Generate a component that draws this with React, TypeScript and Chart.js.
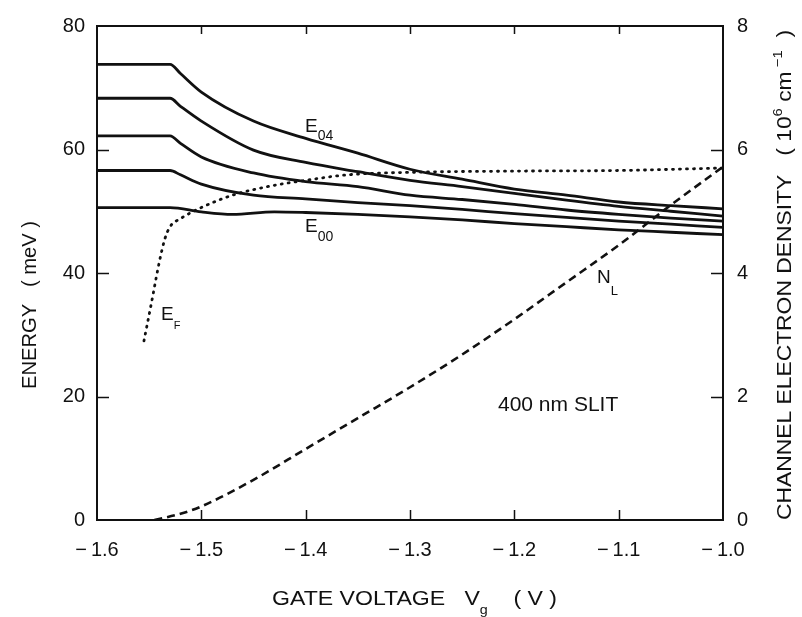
import React, { useEffect, useRef } from "react";
import { Chart, registerables } from "chart.js";
Chart.register(...registerables);

// Gate voltage grids (V)
const V_LEVELS = [-1.6, -1.53, -1.52, -1.5, -1.45, -1.4, -1.35, -1.3, -1.25, -1.2, -1.15, -1.1, -1.05, -1.0];
const E04 = [73.8, 73.8, 72.3, 69.3, 64.6, 61.8, 59.4, 56.8, 55.2, 53.6, 52.6, 51.5, 50.9, 50.4];
const E03 = [68.3, 68.3, 67.0, 64.6, 59.9, 57.9, 56.4, 55.0, 54.0, 52.9, 51.8, 50.8, 50.0, 49.2];
const E02 = [62.2, 62.2, 61.0, 58.8, 56.2, 54.8, 54.0, 52.6, 51.9, 51.1, 50.2, 49.5, 48.9, 48.4];
const E01 = [56.6, 56.6, 55.9, 54.4, 52.6, 52.0, 51.4, 50.9, 50.3, 49.6, 49.0, 48.4, 47.9, 47.4];
const V_E00 = [-1.6, -1.53, -1.5, -1.47, -1.43, -1.4, -1.35, -1.3, -1.25, -1.2, -1.15, -1.1, -1.05, -1.0];
const E00 = [50.6, 50.6, 49.9, 49.5, 49.9, 49.8, 49.5, 49.1, 48.6, 48.0, 47.5, 47.0, 46.6, 46.2];
const V_EF = [-1.555, -1.548, -1.54, -1.535, -1.53, -1.52, -1.5, -1.47, -1.43, -1.4, -1.36, -1.3, -1.2, -1.1, -1.0];
const EF = [29, 35, 42, 45.5, 47.5, 48.8, 50.6, 52.6, 54.2, 55.0, 55.9, 56.3, 56.5, 56.6, 57.0];
const V_NL = [-1.545, -1.52, -1.5, -1.45, -1.4, -1.35, -1.3, -1.25, -1.2, -1.15, -1.1, -1.05, -1.0];
const NL = [0, 0.1, 0.22, 0.65, 1.15, 1.65, 2.15, 2.68, 3.25, 3.85, 4.45, 5.1, 5.72];

const X_MIN = -1.6, X_MAX = -1.0, X_STEP = 0.1;
const E_MAX = 80, E_STEP = 20;
const N_MAX = 8, N_STEP = 2;

const INK = "#111";
const FONT = "'Liberation Sans', Arial, sans-serif";

const pts = (xs: number[], ys: number[]) => xs.map((x, i) => ({ x, y: ys[i] }));

type Part = { t: string; size: number; dy?: number };
function drawRich(ctx: CanvasRenderingContext2D, parts: Part[], x: number, y: number, rot: number, align: "left" | "center", targetLen?: number) {
  ctx.save();
  ctx.translate(x, y);
  ctx.rotate(rot);
  let total = 0;
  const ws = parts.map((p) => {
    ctx.font = `${p.size}px ${FONT}`;
    const w = ctx.measureText(p.t).width;
    total += w;
    return w;
  });
  const sx = targetLen ? targetLen / total : 1;
  ctx.scale(sx, 1);
  let cur = align === "center" ? -total / 2 : 0;
  ctx.fillStyle = INK;
  ctx.textBaseline = "alphabetic";
  ctx.textAlign = "left";
  parts.forEach((p, i) => {
    ctx.font = `${p.size}px ${FONT}`;
    ctx.fillText(p.t, cur, p.dy || 0);
    cur += ws[i];
  });
  ctx.restore();
}

const decor = {
  id: "decor",
  afterDraw(chart: any) {
    const { ctx, chartArea: a, scales } = chart;
    const xs = scales.x, yl = scales.y, yr = scales.y2;
    ctx.save();
    ctx.strokeStyle = INK;
    ctx.lineWidth = 2;
    ctx.strokeRect(a.left, a.top, a.right - a.left, a.bottom - a.top);
    ctx.lineWidth = 1.5;
    ctx.beginPath();
    for (let v = X_MIN + X_STEP; v < X_MAX - 1e-6; v += X_STEP) {
      const px = Math.round(xs.getPixelForValue(v)) + 0.5;
      ctx.moveTo(px, a.bottom); ctx.lineTo(px, a.bottom - 10);
      ctx.moveTo(px, a.top); ctx.lineTo(px, a.top + 8);
    }
    for (let v = E_STEP; v < E_MAX; v += E_STEP) {
      const py = Math.round(yl.getPixelForValue(v)) + 0.5;
      ctx.moveTo(a.left, py); ctx.lineTo(a.left + 12, py);
    }
    for (let v = N_STEP; v < N_MAX; v += N_STEP) {
      const py = Math.round(yr.getPixelForValue(v)) + 0.5;
      ctx.moveTo(a.right, py); ctx.lineTo(a.right - 12, py);
    }
    ctx.stroke();
    ctx.restore();

    // in-plot labels
    drawRich(ctx, [{ t: "E", size: 19 }, { t: "04", size: 14, dy: 8 }], 305, 132, 0, "left");
    drawRich(ctx, [{ t: "E", size: 19 }, { t: "00", size: 14, dy: 9 }], 305, 232, 0, "left");
    drawRich(ctx, [{ t: "N", size: 19 }, { t: "L", size: 13, dy: 12 }], 597, 283, 0, "left");
    drawRich(ctx, [{ t: "E", size: 19 }, { t: "F", size: 11, dy: 9 }], 161, 320, 0, "left");
    drawRich(ctx, [{ t: "400 nm SLIT", size: 21 }], 498, 411, 0, "left");

    // axis titles
    drawRich(ctx, [{ t: "ENERGY   ( meV )", size: 20 }], 36, 305, -Math.PI / 2, "center", 168);
    drawRich(
      ctx,
      [
        { t: "CHANNEL ELECTRON DENSITY   ( 10", size: 20 },
        { t: "6", size: 13, dy: -9 },
        { t: " cm", size: 20 },
        { t: " \u22121", size: 13, dy: -9 },
        { t: "  )", size: 20 },
      ],
      791, 275, -Math.PI / 2, "center", 490
    );
    drawRich(
      ctx,
      [
        { t: "GATE VOLTAGE   V", size: 21 },
        { t: "g", size: 13, dy: 9 },
        { t: "    ( V )", size: 21 },
      ],
      272, 605, 0, "left", 285
    );
  },
};

export default function App() {
  const ref = useRef<HTMLCanvasElement | null>(null);
  useEffect(() => {
    document.body.style.margin = "0";
    const line = (data: any, extra: any = {}) => ({
      data,
      borderColor: INK,
      borderWidth: 2.8,
      pointRadius: 0,
      fill: false,
      cubicInterpolationMode: "monotone",
      yAxisID: "y",
      ...extra,
    });
    const tickFont = { family: FONT, size: 20 };
    const chart = new Chart(ref.current as HTMLCanvasElement, {
      type: "line",
      data: {
        datasets: [
          line(pts(V_LEVELS, E04)),
          line(pts(V_LEVELS, E03)),
          line(pts(V_LEVELS, E02)),
          line(pts(V_LEVELS, E01)),
          line(pts(V_E00, E00)),
          line(pts(V_EF, EF), { borderDash: [1, 6], borderCapStyle: "round", borderWidth: 2.8 }),
          line(pts(V_NL, NL), { borderDash: [8, 5], borderWidth: 2.6, yAxisID: "y2" }),
        ],
      },
      options: {
        animation: false,
        responsive: false,
        maintainAspectRatio: false,
        layout: { padding: { top: 21, left: 0, right: 0, bottom: 0 } },
        plugins: { legend: { display: false }, tooltip: { enabled: false } },
        scales: {
          x: {
            type: "linear",
            min: X_MIN,
            max: X_MAX,
            grid: { display: false, drawTicks: false },
            border: { display: false },
            ticks: {
              stepSize: X_STEP,
              autoSkip: false,
              maxRotation: 0,
              padding: 18,
              color: INK,
              font: tickFont,
              callback: (v: any) => "\u2212\u2009" + Math.abs(Number(v)).toFixed(1),
            },
            afterFit: (s: any) => { s.height = 97; },
          },
          y: {
            position: "left",
            min: 0,
            max: E_MAX,
            grid: { display: false, drawTicks: false },
            border: { display: false },
            ticks: { stepSize: E_STEP, padding: 12, color: INK, font: tickFont },
            afterFit: (s: any) => { s.width = 97; },
          },
          y2: {
            position: "right",
            min: 0,
            max: N_MAX,
            grid: { display: false, drawTicks: false },
            border: { display: false },
            ticks: { stepSize: N_STEP, padding: 14, color: INK, font: tickFont },
            afterFit: (s: any) => { s.width = 79; },
          },
        },
      } as any,
      plugins: [decor],
    });
    return () => chart.destroy();
  }, []);
  return <canvas ref={ref} width={802} height={617} style={{ display: "block" }} />;
}
